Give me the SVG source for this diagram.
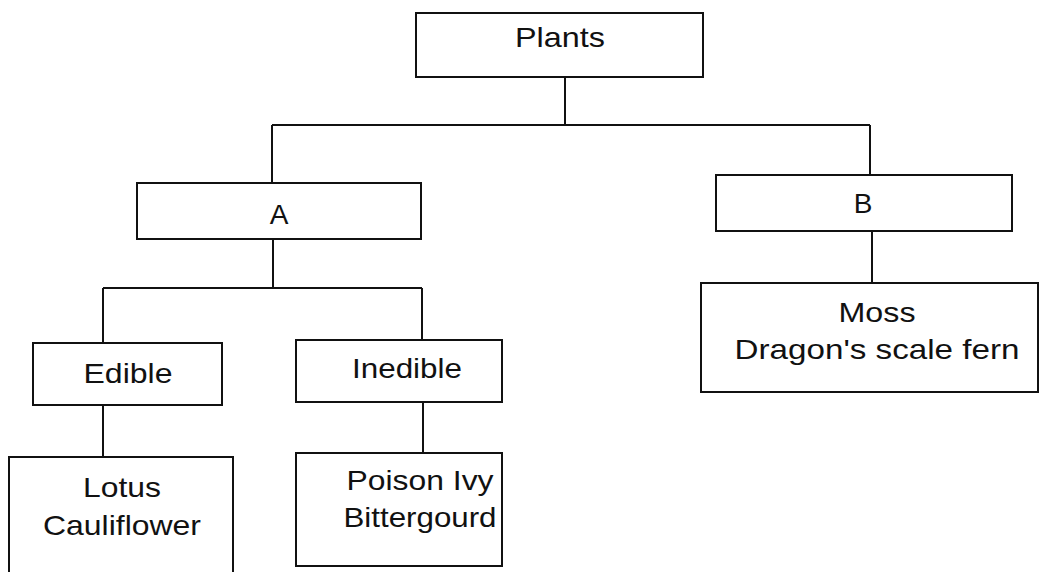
<svg xmlns="http://www.w3.org/2000/svg" width="1046" height="572" viewBox="0 0 1046 572">
<style>
.box{fill:#fff;stroke:#111;stroke-width:2}
.ln{fill:none;stroke:#111;stroke-width:2}
text{font-family:"Liberation Sans",Arial,sans-serif;font-size:28px;fill:#111;text-anchor:middle}
</style>
<rect width="1046" height="572" fill="#fff"/>
<g id="connectors">
<path class="ln" d="M565 77V125M272 125H870M272 125V183M870 125V175"/>
<path class="ln" d="M273 239V288M103 288H422M103 288V343M422 288V340"/>
<path class="ln" d="M103 405V457M423 402V453M872 231V283"/>
</g>
<g id="plants"><rect class="box" x="416" y="13" width="287" height="64"/><text x="560" y="47" textLength="90" lengthAdjust="spacingAndGlyphs">Plants</text></g>
<g id="a"><rect class="box" x="137" y="183" width="284" height="56"/><text x="279" y="224">A</text></g>
<g id="b"><rect class="box" x="716" y="175" width="296" height="56"/><text x="863" y="213">B</text></g>
<g id="moss"><rect class="box" x="701" y="283" width="337" height="109"/><text x="877" y="322" textLength="77" lengthAdjust="spacingAndGlyphs">Moss</text><text x="877" y="359" textLength="285" lengthAdjust="spacingAndGlyphs">Dragon's scale fern</text></g>
<g id="edible"><rect class="box" x="33" y="343" width="189" height="62"/><text x="128" y="383" textLength="89" lengthAdjust="spacingAndGlyphs">Edible</text></g>
<g id="inedible"><rect class="box" x="296" y="340" width="206" height="62"/><text x="407" y="378" textLength="110" lengthAdjust="spacingAndGlyphs">Inedible</text></g>
<g id="lotus"><rect class="box" x="9" y="457" width="224" height="120"/><text x="122" y="497" textLength="78" lengthAdjust="spacingAndGlyphs">Lotus</text><text x="122" y="535" textLength="158" lengthAdjust="spacingAndGlyphs">Cauliflower</text></g>
<g id="poison"><rect class="box" x="296" y="453" width="206" height="113"/><text x="420" y="490" textLength="147" lengthAdjust="spacingAndGlyphs">Poison Ivy</text><text x="420" y="527" textLength="153" lengthAdjust="spacingAndGlyphs">Bittergourd</text></g>
</svg>
